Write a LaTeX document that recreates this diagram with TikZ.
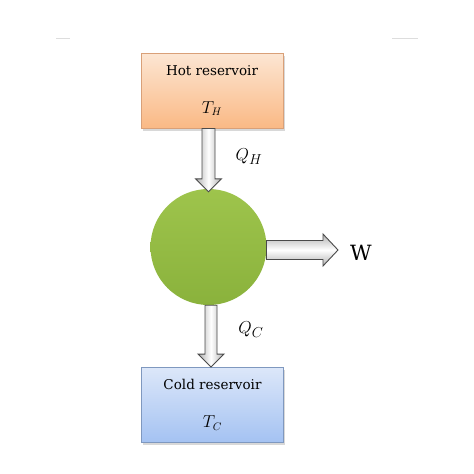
\documentclass[tikz,border=0pt]{standalone}
\usepackage{fontspec}
\setmainfont{DejaVu Serif}
\usetikzlibrary{calc,shadows}
\definecolor{hottop}{HTML}{FCE6D3}
\definecolor{hotbot}{HTML}{FAB985}
\definecolor{hotedge}{HTML}{D9A078}
\definecolor{coldtop}{HTML}{DCE7F9}
\definecolor{coldbot}{HTML}{A4C2F2}
\definecolor{coldedge}{HTML}{7F98BF}
\definecolor{arrowgray}{HTML}{B0B0B0}
\definecolor{arrowedge}{HTML}{4A4A4A}
\definecolor{greentop}{HTML}{9EC44C}
\definecolor{greenbot}{HTML}{8AB23C}
\definecolor{markgray}{HTML}{DDDDDD}
\begin{document}
\begin{tikzpicture}[x=1pt,y=-1pt,
  reservoir/.style={draw, line width=0.9pt, minimum width=142pt, minimum height=75pt,
    inner sep=0pt, align=center, font=\fontsize{13.5}{16}\selectfont,
    drop shadow={shadow xshift=1.5pt, shadow yshift=-2.5pt, opacity=0.3}},
  hotbox/.style={reservoir, draw=hotedge, top color=hottop, bottom color=hotbot},
  coldbox/.style={reservoir, draw=coldedge, top color=coldtop, bottom color=coldbot},
  enginestyle/.style={circle, minimum size=116pt, inner sep=0pt,
    top color=greentop, bottom color=greenbot},
  fatv/.style={draw=arrowedge, line width=0.9pt, line join=miter,
    left color=arrowgray, right color=arrowgray, middle color=white},
  fath/.style={draw=arrowedge, line width=0.9pt, line join=miter,
    top color=arrowgray, bottom color=arrowgray, middle color=white},
  qlabel/.style={font=\fontsize{19}{22}\selectfont},
  pagemark/.style={draw=markgray, line width=0.6pt}
]
\useasboundingbox (0,0) rectangle (474,474);
\fill[white] (0,0) rectangle (474,474);
% faint page marks
\coordinate (m1a) at (56,38); \coordinate (m1b) at (70,38);
\coordinate (m2a) at (392,38); \coordinate (m2b) at (418,38);
\draw[pagemark] (m1a) -- (m1b);
\draw[pagemark] (m2a) -- (m2b);

\node[hotbox] (hot) at (212,90.5) {Hot reservoir\\[22pt]{\fontsize{16}{16}\selectfont$T_H$}};
\node[coldbox] (cold) at (212.5,405) {Cold reservoir\\[22pt]{\fontsize{16}{16}\selectfont$T_C$}};
\coordinate (wtip) at (338,250);
\coordinate (wstart) at (266.5,247);

\node[enginestyle] (engine) at (208.5,247) {};

% right arrow
\draw[fath] let \p1=(wstart), \p2=(wtip) in
  (\x1,\y2+9.5pt) -- (\x2-15pt,\y2+9.5pt) -- (\x2-15pt,\y2+16pt) -- (\x2,\y2)
  -- (\x2-15pt,\y2-16pt) -- (\x2-15pt,\y2-9.5pt) -- (\x1,\y2-9.5pt) -- cycle;

% top arrow
\draw[fatv] let \p1=(hot.south), \p2=(engine.north) in
  (\x2-6.5pt,\y1) -- (\x2-6.5pt,\y2+10pt) -- (\x2-13pt,\y2+10pt) -- (\x2,\y2-3pt)
  -- (\x2+13pt,\y2+10pt) -- (\x2+6.5pt,\y2+10pt) -- (\x2+6.5pt,\y1) -- cycle;
% bottom arrow
\draw[fatv] let \p1=(engine.south), \p2=(cold.north) in
  (\x1-3.5pt,\y1) -- (\x1-3.5pt,\y2+13pt) -- (\x1-10.5pt,\y2+13pt) -- (\x1+2.5pt,\y2)
  -- (\x1+15.5pt,\y2+13pt) -- (\x1+8.5pt,\y2+13pt) -- (\x1+8.5pt,\y1) -- cycle;

\node[qlabel] (qh) at (249,157) {$Q_H$};
\node[qlabel] (qc) at (251,330) {$Q_C$};
\node[font=\fontsize{21}{24}\selectfont] (w) at (361,253) {W};
\end{tikzpicture}
\end{document}
